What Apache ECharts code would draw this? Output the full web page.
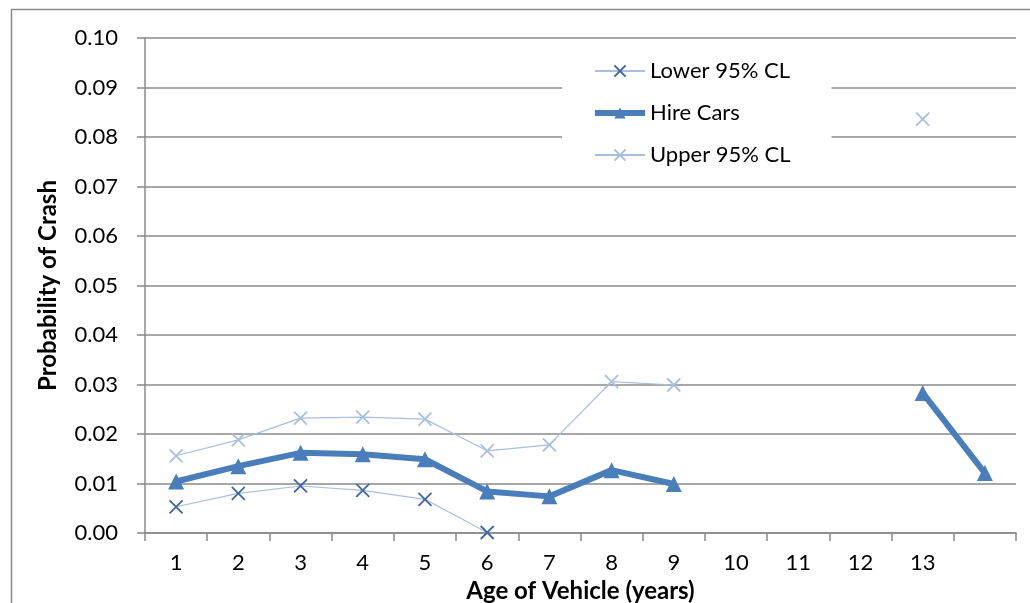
<!DOCTYPE html>
<html>
<head>
<meta charset="utf-8">
<script src="https://cdn.jsdelivr.net/npm/echarts@6/dist/echarts.min.js"></script>
<style>
html,body{margin:0;padding:0;background:#fff;}
#chart{width:1030px;height:603px;}
</style>
</head>
<body>
<div id="chart"></div>
<script>
// ---- data ----
const categories = ['1','2','3','4','5','6','7','8','9','10','11','12','13',''];
const lowerCL = [0.0053, 0.0080, 0.0095, 0.0086, 0.0068, 0.0001, null, null, null, null, null, null, null, null];
const hireCars = [0.0104, 0.0135, 0.0162, 0.0159, 0.0149, 0.0084, 0.0074, 0.0127, 0.0099, null, null, null, 0.0283, 0.0121];
const upperCL = [0.0156, 0.0188, 0.0232, 0.0234, 0.0230, 0.0166, 0.0178, 0.0306, 0.0299, null, null, null, 0.0836, null];
const seriesNames = ['Lower 95% CL', 'Hire Cars', 'Upper 95% CL'];
const yTicks = { min: 0, max: 0.10, interval: 0.01 };

const crossPath = 'path://M0,0L10,10M10,0L0,10';
const font = 'Lato, "Open Sans", sans-serif';
const gridColor = '#8a8a8a';
const hireColor = '#4a7ebb';
const lightColor = '#a9bfdf';
const lowerMarkColor = '#3f67a3';

const chart = echarts.init(document.getElementById('chart'), null, { renderer: 'canvas' });
chart.setOption({
  animation: false,
  backgroundColor: '#fff',
  textStyle: { fontFamily: font, color: '#000' },
  graphic: [{
    type: 'rect', left: 9, top: 7, z: -10,
    shape: { width: 1100, height: 700 },
    style: { fill: 'none', stroke: '#8a8a8a', lineWidth: 1.5 }
  }],
  grid: { left: 145, right: 14, top: 38, bottom: 70, containLabel: false, outerBoundsMode: 'none' },
  legend: {
    orient: 'vertical',
    left: 562, top: 51,
    padding: [9, 41, 9, 30],
    backgroundColor: '#fff',
    itemWidth: 50, itemHeight: 14, itemGap: 20,
    data: [
      { name: seriesNames[0] },
      { name: seriesNames[1], lineStyle: { width: 6, color: hireColor } },
      { name: seriesNames[2] }
    ],
    textStyle: { fontFamily: font, fontSize: 22, color: '#000', lineHeight: 21 }
  },
  xAxis: {
    type: 'category',
    data: categories,
    boundaryGap: true,
    name: 'Age of Vehicle (years)',
    nameLocation: 'middle',
    nameGap: 44,
    nameTextStyle: { fontFamily: font, fontSize: 24, fontWeight: 'bold', color: '#000' },
    axisLine: { lineStyle: { color: gridColor, width: 1.5 } },
    axisTick: { show: true, length: 8, alignWithLabel: false, lineStyle: { color: gridColor, width: 1.5 } },
    axisLabel: { fontFamily: font, fontSize: 22, color: '#000', margin: 19, interval: 0 },
    splitLine: { show: false }
  },
  yAxis: {
    type: 'value',
    min: yTicks.min, max: yTicks.max, interval: yTicks.interval,
    name: 'Probability of Crash',
    nameLocation: 'middle',
    nameGap: 85,
    nameTextStyle: { fontFamily: font, fontSize: 24, fontWeight: 'bold', color: '#000' },
    axisLine: { show: true, lineStyle: { color: gridColor, width: 1.5 } },
    axisTick: { show: true, length: 8, lineStyle: { color: gridColor, width: 1.5 } },
    axisLabel: { fontFamily: font, fontSize: 22, color: '#000', margin: 27, formatter: v => v.toFixed(2) },
    splitLine: { show: true, lineStyle: { color: gridColor, width: 1.5 } }
  },
  series: [
    {
      name: seriesNames[0], type: 'line', data: lowerCL, connectNulls: false, z: 2,
      symbol: crossPath, symbolSize: 13,
      lineStyle: { color: lightColor, width: 1.2 },
      itemStyle: { color: lowerMarkColor, borderColor: lowerMarkColor, borderWidth: 1.8 }
    },
    {
      name: seriesNames[1], type: 'line', data: hireCars, connectNulls: false, z: 4,
      symbol: 'triangle', symbolSize: 16,
      lineStyle: { color: hireColor, width: 6 },
      itemStyle: { color: hireColor }
    },
    {
      name: seriesNames[2], type: 'line', data: upperCL, connectNulls: false, z: 3,
      symbol: crossPath, symbolSize: 13,
      lineStyle: { color: lightColor, width: 1.2 },
      itemStyle: { color: lightColor, borderColor: lightColor, borderWidth: 1.8 }
    }
  ]
});
</script>
</body>
</html>
